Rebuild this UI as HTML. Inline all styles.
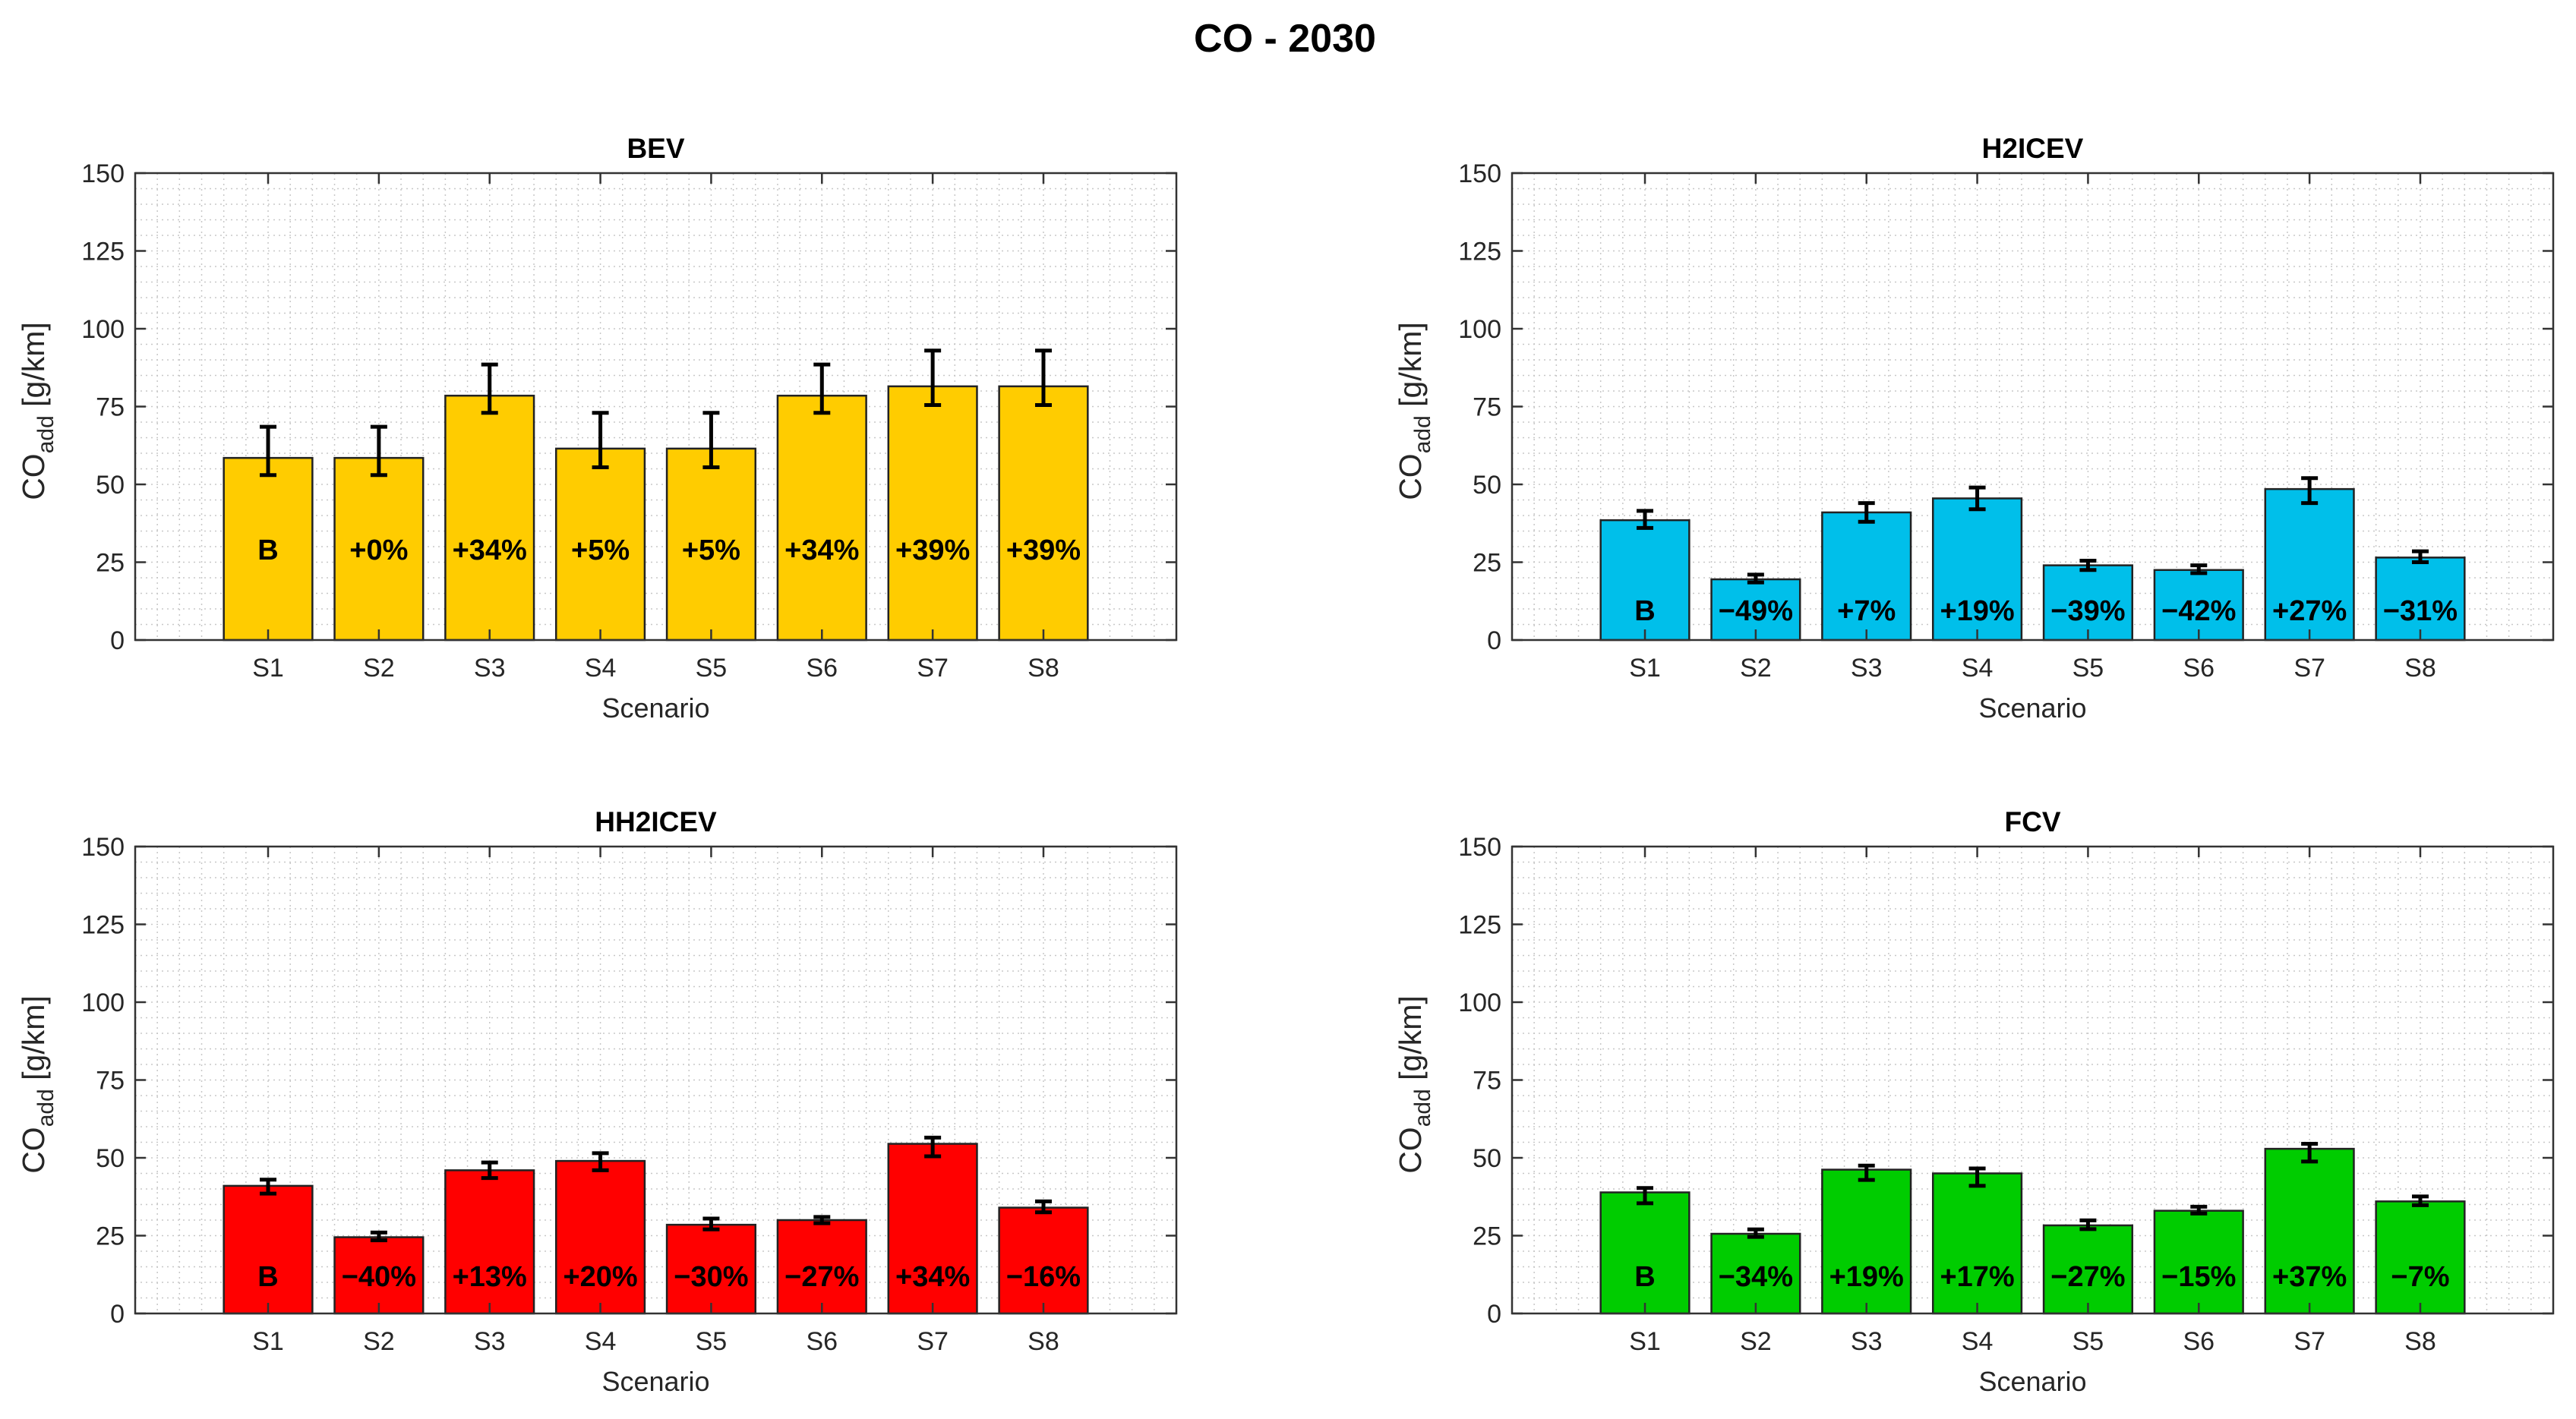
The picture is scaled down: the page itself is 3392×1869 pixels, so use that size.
<!DOCTYPE html>
<html><head><meta charset="utf-8"><style>
html,body{margin:0;padding:0;background:#fff;}
svg{display:block;font-family:"Liberation Sans",Arial,sans-serif;}
</style></head><body>
<svg id="fig" width="3392" height="1869" viewBox="0 0 3392 1869" xmlns="http://www.w3.org/2000/svg">
<text x="1692" y="68" font-size="52" font-weight="bold" text-anchor="middle">CO - 2030</text>
</svg>
<script>
const categories = ["S1","S2","S3","S4","S5","S6","S7","S8"];
const yTicks = [0,25,50,75,100,125,150];
const panelTitles = ["BEV","H2ICEV","HH2ICEV","FCV"];
const panelColors = ["#FFCC00","#00BFEA","#FF0000","#00CC00"];
const bevValues = [58.5,58.5,78.5,61.5,61.5,78.5,81.5,81.5];
const bevLow = [53,53,73,55.5,55.5,73,75.5,75.5];
const bevHigh = [68.5,68.5,88.5,73,73,88.5,93,93];
const bevLabels = ["B","+0%","+34%","+5%","+5%","+34%","+39%","+39%"];
const h2Values = [38.5,19.5,41,45.5,24,22.5,48.5,26.5];
const h2Low = [36,18.5,38,42,22.5,21.5,44,25];
const h2High = [41.5,21,44,49,25.5,24,52,28.5];
const h2Labels = ["B","\u221249%","+7%","+19%","\u221239%","\u221242%","+27%","\u221231%"];
const hh2Values = [41,24.5,46,49,28.5,30,54.5,34];
const hh2Low = [38.5,23.5,43.5,46,27,29,50.5,32.5];
const hh2High = [43,26,48.5,51.5,30.5,31,56.5,36];
const hh2Labels = ["B","\u221240%","+13%","+20%","\u221230%","\u221227%","+34%","\u221216%"];
const fcvValues = [38.9,25.6,46.2,45,28.3,33,52.9,36];
const fcvLow = [35.4,24.6,42.9,41,27.1,32.1,48.8,34.8];
const fcvHigh = [40.3,27,47.5,46.6,29.9,34.3,54.5,37.6];
const fcvLabels = ["B","\u221234%","+19%","+17%","\u221227%","\u221215%","+37%","\u22127%"];
const labelLevels = [29,9.5,12,12];

const NS="http://www.w3.org/2000/svg";
const svg=document.getElementById('fig');
function mk(tag,attrs,parent){const e=document.createElementNS(NS,tag);for(const k in attrs)e.setAttribute(k,attrs[k]);(parent||svg).appendChild(e);return e;}

const boxes=[{x0:178,x1:1549,y0:228,y1:843},{x0:1991,x1:3362,y0:228,y1:843},{x0:178,x1:1549,y0:1115,y1:1730},{x0:1991,x1:3362,y0:1115,y1:1730}];
const vals=[bevValues,h2Values,hh2Values,fcvValues];
const lows=[bevLow,h2Low,hh2Low,fcvLow];
const highs=[bevHigh,h2High,hh2High,fcvHigh];
const labs=[bevLabels,h2Labels,hh2Labels,fcvLabels];
const names=["bev","h2icev","hh2icev","fcv"];

for(let p=0;p<4;p++){
  const b=boxes[p];
  const g=mk('g',{});
  
  
  const xs=v=>b.x0+(v+0.2)/9.4*(b.x1-b.x0);
  const ys=v=>b.y1-v/150*(b.y1-b.y0);
  mk('rect',{x:b.x0,y:b.y0,width:b.x1-b.x0,height:b.y1-b.y0,fill:'#fff'},g);
  for(let v=5;v<150;v+=5){mk('line',{x1:b.x0,x2:b.x1,y1:ys(v),y2:ys(v),stroke:'#c8c8c8','stroke-width':1.5,'stroke-dasharray':'2 5'},g);}
  for(let u=0;u<=9.2+1e-9;u+=0.2){const x=xs(u);if(x<=b.x0+1||x>=b.x1-1)continue;mk('line',{x1:x,x2:x,y1:b.y0,y2:b.y1,stroke:'#c8c8c8','stroke-width':1.5,'stroke-dasharray':'2 5'},g);}
  for(let i=0;i<categories.length;i++){
    const c=i+1;
    const r=mk('rect',{x:xs(c-0.4),y:ys(vals[p][i]),width:xs(c+0.4)-xs(c-0.4),height:ys(0)-ys(vals[p][i]),fill:panelColors[p],stroke:'#222','stroke-width':2.5},g);
    
    
  }
  for(const t of yTicks){
    mk('line',{x1:b.x0,x2:b.x0+14,y1:ys(t),y2:ys(t),stroke:'#333','stroke-width':2.5},g);
    mk('line',{x1:b.x1,x2:b.x1-14,y1:ys(t),y2:ys(t),stroke:'#333','stroke-width':2.5},g);
    const tl=mk('text',{x:b.x0-14,y:ys(t)+12,'font-size':34,'text-anchor':'end',fill:'#262626'},g);
    tl.textContent=t;
    
    
  }
  for(let i=0;i<categories.length;i++){
    const x=xs(i+1);
    mk('line',{x1:x,x2:x,y1:b.y1,y2:b.y1-14,stroke:'#333','stroke-width':2.5},g);
    mk('line',{x1:x,x2:x,y1:b.y0,y2:b.y0+14,stroke:'#333','stroke-width':2.5},g);
    const tl=mk('text',{x:x,y:b.y1+48,'font-size':34,'text-anchor':'middle',fill:'#262626'},g);
    tl.textContent=categories[i];
    
    
  }
  mk('rect',{x:b.x0,y:b.y0,width:b.x1-b.x0,height:b.y1-b.y0,fill:'none',stroke:'#333','stroke-width':2.5},g);
  for(let i=0;i<categories.length;i++){
    const x=xs(i+1),w=11;
    const e=mk('path',{d:`M${x},${ys(lows[p][i])}V${ys(highs[p][i])}M${x-w},${ys(lows[p][i])}H${x+w}M${x-w},${ys(highs[p][i])}H${x+w}`,stroke:'#000','stroke-width':5,fill:'none'},g);
    
    
    const t=mk('text',{x:x,y:ys(labelLevels[p])+13,'font-size':38,'font-weight':'bold','text-anchor':'middle'},g);
    t.textContent=labs[p][i];
    
    
  }
  const cx=(b.x0+b.x1)/2;
  const tt=mk('text',{x:cx,y:b.y0-20,'font-size':37,'font-weight':'bold','text-anchor':'middle'},g);
  tt.textContent=panelTitles[p];
  
  
  const xl=mk('text',{x:cx,y:b.y1+102,'font-size':36,'text-anchor':'middle',fill:'#262626'},g);
  xl.textContent='Scenario';
  
  
  const ly=(b.y0+b.y1)/2+6;
  const yl=mk('text',{x:0,y:0,'font-size':41,'text-anchor':'middle',fill:'#262626',transform:`translate(${b.x0-120},${ly}) rotate(-90)`},g);
  yl.innerHTML='CO<tspan font-size="30" dy="12">add</tspan><tspan dy="-12"> [g/km]</tspan>';
  
  
}
</script>
</body></html>
